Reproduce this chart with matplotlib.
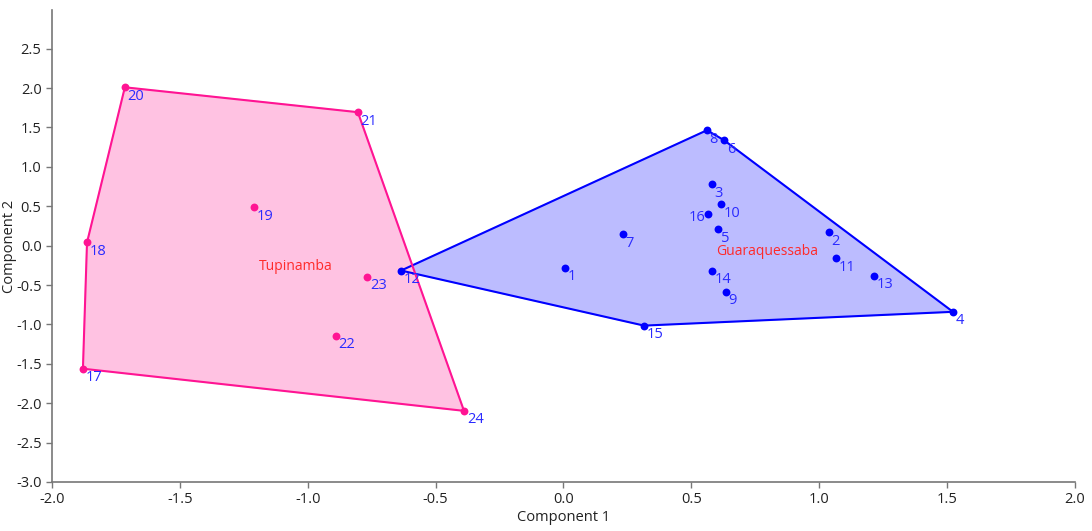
import numpy as np
import matplotlib
matplotlib.use('Agg')
import matplotlib.pyplot as plt

plt.rcParams['font.family'] = ['Open Sans', 'DejaVu Sans']

# Component scores per sample
guara_ids = [1, 2, 3, 4, 5, 6, 7, 8, 9, 10, 11, 12, 13, 14, 15, 16]
guara_x = [0.006, 1.038, 0.58, 1.523, 0.604, 0.628, 0.233, 0.561,
           0.635, 0.616, 1.066, -0.635, 1.214, 0.58, 0.315, 0.565]
guara_y = [-0.28, 0.168, 0.78, -0.84, 0.206, 1.338, 0.143, 1.465,
           -0.583, 0.524, -0.163, -0.316, -0.38, -0.316, -1.015, 0.397]

tupi_ids = [17, 18, 19, 20, 21, 22, 23, 24]
tupi_x = [-1.879, -1.863, -1.21, -1.715, -0.804, -0.89, -0.768, -0.389]
tupi_y = [-1.562, 0.04, 0.486, 2.01, 1.694, -1.143, -0.392, -2.097]

groups = [
    ('Guaraquessaba', guara_ids, guara_x, guara_y, '#0000ff', '#bcbcff'),
    ('Tupinamba', tupi_ids, tupi_x, tupi_y, '#ff1493', '#ffc2e2'),
]


def convex_hull(pts):
    pts = sorted(set(pts))
    def cross(o, a, b):
        return (a[0] - o[0]) * (b[1] - o[1]) - (a[1] - o[1]) * (b[0] - o[0])
    lower, upper = [], []
    for p in pts:
        while len(lower) >= 2 and cross(lower[-2], lower[-1], p) <= 0:
            lower.pop()
        lower.append(p)
    for p in reversed(pts):
        while len(upper) >= 2 and cross(upper[-2], upper[-1], p) <= 0:
            upper.pop()
        upper.append(p)
    return lower[:-1] + upper[:-1]


fig = plt.figure(figsize=(10.92, 5.31), dpi=100)
ax = fig.add_axes([0.0476, 0.0923, 0.9368, 0.8887])

for name, ids, xs, ys, col, fill in groups:
    hull = convex_hull(list(zip(xs, ys)))
    hx = [p[0] for p in hull] + [hull[0][0]]
    hy = [p[1] for p in hull] + [hull[0][1]]
    ax.fill(hx, hy, color=fill, zorder=1)
    ax.plot(hx, hy, color=col, lw=1.5, zorder=2)
    ax.scatter(xs, ys, s=32, color=col, zorder=3, linewidths=0)
    for i, x, y in zip(ids, xs, ys):
        if i == 16:
            ax.annotate(str(i), (x, y), xytext=(-2, 3), textcoords='offset points',
                        ha='right', va='top', fontsize=10.5, color='#2a2aff', zorder=4)
        else:
            ax.annotate(str(i), (x, y), xytext=(2, -1), textcoords='offset points',
                        ha='left', va='top', fontsize=10.5, color='#2a2aff', zorder=4)
    ax.annotate(name, (np.mean(xs), np.mean(ys)), xytext=(0, -3),
                textcoords='offset points', ha='left', va='top',
                fontsize=10, color='#ff2a2a', zorder=4)

ax.set_xlim(-2, 2)
ax.set_ylim(-3, 2.99)
ax.set_xticks(np.arange(-2, 2.01, 0.5))
ax.set_yticks(np.arange(-3, 2.51, 0.5))
ax.xaxis.set_major_formatter(matplotlib.ticker.FormatStrFormatter('%.1f'))
ax.yaxis.set_major_formatter(matplotlib.ticker.FormatStrFormatter('%.1f'))
ax.spines['top'].set_visible(False)
ax.spines['right'].set_visible(False)
for s in ('left', 'bottom'):
    ax.spines[s].set_color('#777777')
    ax.spines[s].set_linewidth(1.2)
ax.tick_params(colors='#777777', labelcolor='#222222', labelsize=10.5, length=4, width=1)
ax.set_xlabel('Component 1', fontsize=10.5, color='#222222', labelpad=2)
ax.set_ylabel('Component 2', fontsize=10.5, color='#222222')
ax.yaxis.set_label_coords(-0.034, 0.5)

fig.savefig('out.png', dpi=100)
